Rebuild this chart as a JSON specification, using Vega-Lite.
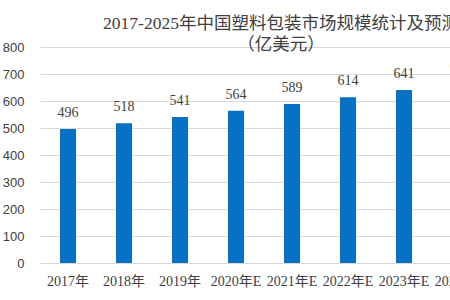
{
  "$schema": "https://vega.github.io/schema/vega-lite/v6.json",
  "autosize": "none",
  "width": 504,
  "height": 216,
  "padding": {"left": 40, "top": 47, "right": 0, "bottom": 37},
  "background": "white",
  "title": {
    "text": ["2017-2025年中国塑料包装市场规模统计及预测", "（亿美元）"],
    "font": "Liberation Serif, Noto Sans CJK SC",
    "fontSize": 17.5,
    "fontWeight": "normal",
    "color": "#404040",
    "anchor": "middle",
    "dx": -11,
    "offset": -12,
    "lineHeight": 21
  },
  "data": {
    "values": [
      {"year": "2017年", "value": 496},
      {"year": "2018年", "value": 518},
      {"year": "2019年", "value": 541},
      {"year": "2020年E", "value": 564},
      {"year": "2021年E", "value": 589},
      {"year": "2022年E", "value": 614},
      {"year": "2023年E", "value": 641},
      {"year": "2024年E", "value": 668},
      {"year": "2025年E", "value": 697}
    ]
  },
  "config": {
    "view": {"stroke": null}
  },
  "encoding": {
    "x": {
      "field": "year",
      "type": "nominal",
      "sort": null,
      "scale": {"paddingInner": 0.714, "paddingOuter": 0.357},
      "axis": {
        "title": null,
        "labelAngle": 0,
        "labelFont": "Liberation Serif, Noto Sans CJK SC",
        "labelFontSize": 14,
        "labelColor": "#404040",
        "labelPadding": 11,
        "ticks": false,
        "domainColor": "#d9d9d9",
        "labelOverlap": false
      }
    },
    "y": {
      "field": "value",
      "type": "quantitative",
      "scale": {"domain": [0, 800]},
      "axis": {
        "title": null,
        "values": [0, 100, 200, 300, 400, 500, 600, 700, 800],
        "labelFont": "Liberation Sans",
        "labelFontSize": 13,
        "labelColor": "#404040",
        "labelPadding": 16,
        "ticks": false,
        "domain": false,
        "gridColor": "#d9d9d9"
      }
    }
  },
  "layer": [
    {"mark": {"type": "bar", "color": "#0A70C2"}},
    {
      "mark": {
        "type": "text",
        "dy": -16,
        "font": "Liberation Serif",
        "fontSize": 14,
        "color": "#404040"
      },
      "encoding": {"text": {"field": "value", "type": "quantitative"}}
    }
  ]
}
